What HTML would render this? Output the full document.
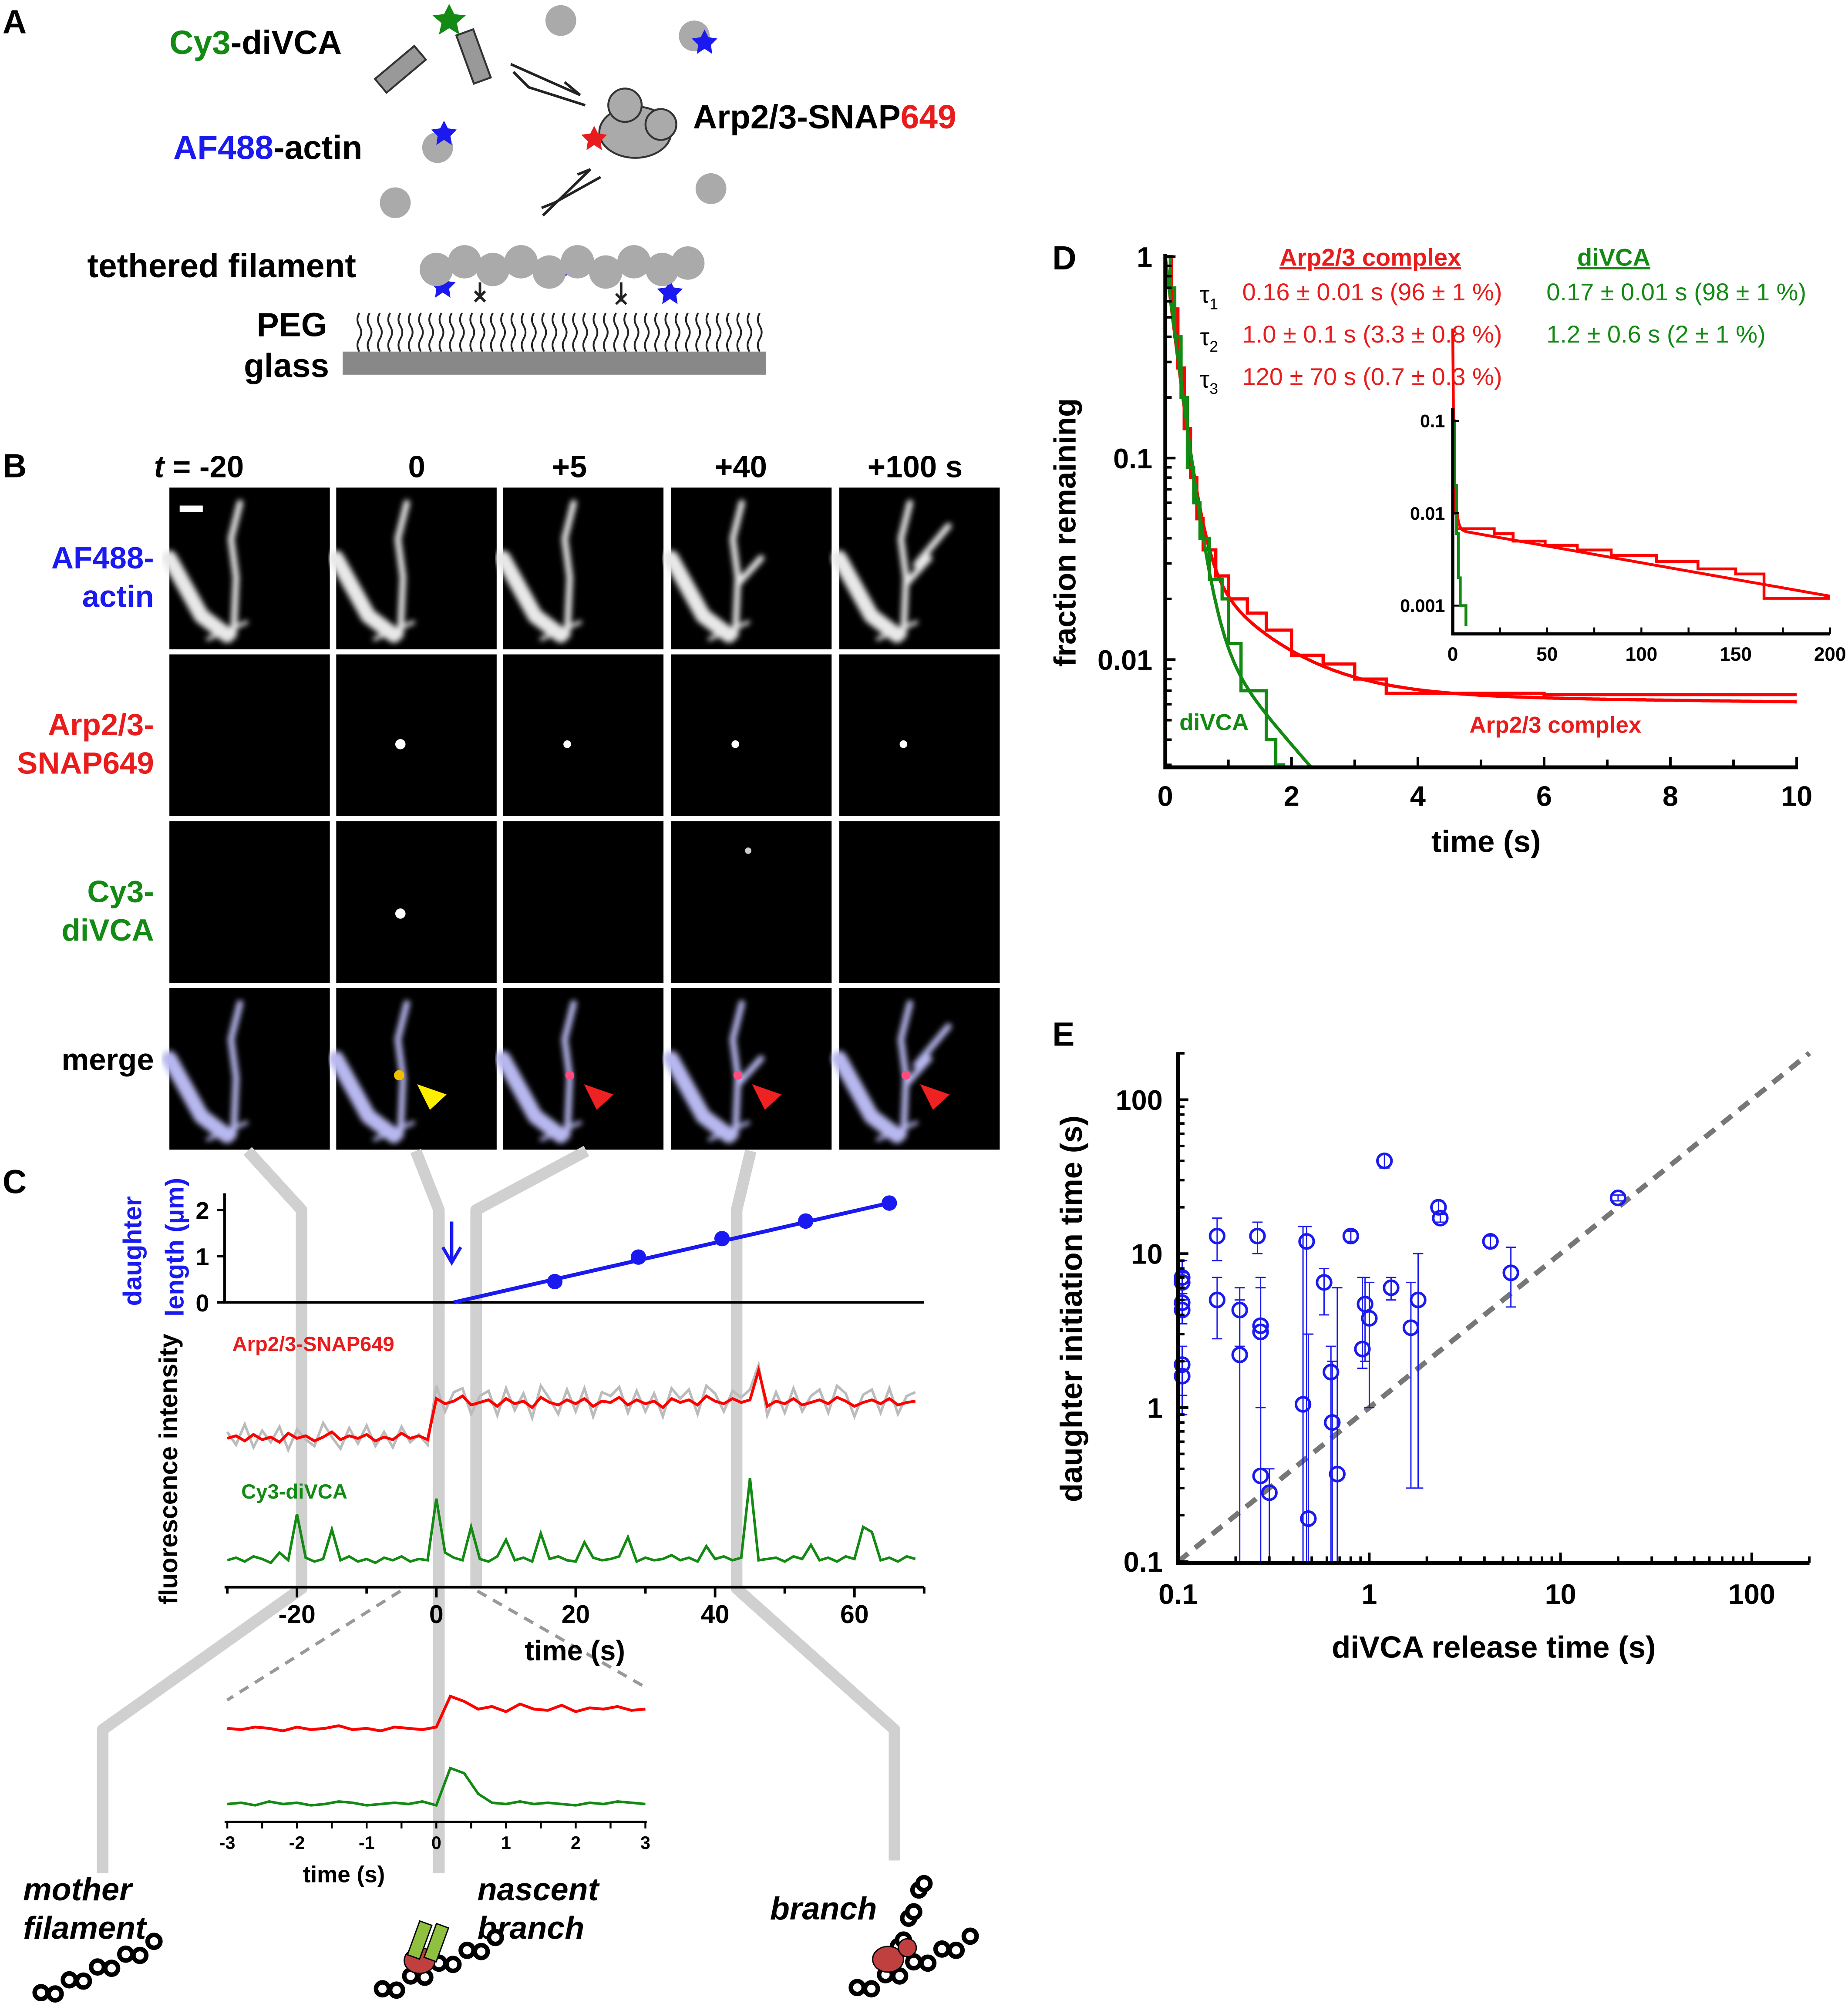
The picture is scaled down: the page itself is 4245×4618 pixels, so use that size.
<!DOCTYPE html>
<html><head><meta charset="utf-8"><style>
html,body{margin:0;padding:0;background:#fff;}
svg{display:block;}
text{font-family:"Liberation Sans",sans-serif;}
.n{font-family:"Liberation Sans Narrow","Liberation Sans",sans-serif;}
.b{font-weight:bold;}
</style></head><body>
<svg id="fig" xmlns="http://www.w3.org/2000/svg" width="4245" height="4618" viewBox="0 0 1440 1566.5">
<defs><filter id="bl"><feGaussianBlur stdDeviation="2.2"/></filter></defs>
<g>
<text x="2" y="26" font-size="26" class="b">A</text>
<text x="132" y="42" font-size="26" class="b"><tspan fill="#138a13">Cy3</tspan>-diVCA</text>
<text x="135" y="124" font-size="26" class="b"><tspan fill="#1a1af0">AF488</tspan>-actin</text>
<text x="540" y="100" font-size="26" class="b">Arp2/3-SNAP<tspan fill="#e81c1c">649</tspan></text>
<text x="68" y="216" font-size="26" class="b">tethered filament</text>
<text x="200" y="262" font-size="26" class="b">PEG</text>
<text x="190" y="294" font-size="26" class="b">glass</text>
<g fill="#999" stroke="#333" stroke-width="1.5">
<rect x="305" y="34" width="14" height="40" transform="rotate(50 312 54)"/>
<rect x="362" y="24" width="14" height="40" transform="rotate(-20 369 44)"/>
</g>
<polygon points="350,3 354,11 363,12 356,18 358,27 350,22 342,27 344,18 337,12 346,11" fill="#138a13"/>
<g fill="#aaa">
<circle cx="437" cy="16" r="12"/><circle cx="541" cy="28" r="12"/><circle cx="341" cy="115" r="12"/><circle cx="308" cy="158" r="12"/><circle cx="554" cy="147" r="12"/>
</g>
<g fill="#1a1af0">
<polygon points="549,23 552,29 559,30 554,35 555,42 549,38 543,42 544,35 539,30 546,29"/>
<polygon points="346,94 349,100 356,101 351,106 352,113 346,109 340,113 341,106 336,101 343,100"/>
<polygon points="345,213 348,219 355,220 350,225 351,232 345,228 339,232 340,225 335,220 342,219"/>
<polygon points="444,198 447,204 454,205 449,210 450,217 444,213 438,217 439,210 434,205 441,204"/>
<polygon points="522,218 525,224 532,225 527,230 528,237 522,233 516,237 517,230 512,225 519,224"/>
</g>
<g fill="#aaa" stroke="#333" stroke-width="1.5">
<ellipse cx="495" cy="103" rx="28" ry="20"/><circle cx="487" cy="82" r="13"/><circle cx="515" cy="97" r="12"/>
</g>
<polygon points="463,98 466,104 473,105 468,110 469,117 463,113 457,117 458,110 453,105 460,104" fill="#e81c1c"/>
<g stroke="#222" stroke-width="2" fill="none">
<path d="M398,50 L452,74 L440,64"/><path d="M400,56 L412,68 L456,82"/>
<path d="M423,168 L460,132 L450,136"/><path d="M422,162 L432,158 L468,138"/>
</g>
<g fill="#aaa">
<circle cx="340" cy="210" r="13"/><circle cx="362" cy="204" r="13"/><circle cx="384" cy="210" r="13"/><circle cx="406" cy="204" r="13"/><circle cx="428" cy="212" r="13"/><circle cx="450" cy="204" r="13"/><circle cx="472" cy="212" r="13"/><circle cx="494" cy="204" r="13"/><circle cx="516" cy="210" r="13"/><circle cx="536" cy="205" r="13"/>
</g>
<path id="pegwave" d="" stroke="#222" stroke-width="1.4" fill="none"/>
<rect x="267" y="274" width="330" height="18" fill="#888"/>
</g>

<g>
<text x="2" y="372" font-size="26" class="b">B</text>
<text x="120" y="372" font-size="24" class="b"><tspan font-style="italic">t</tspan> =  -20</text>
<text x="318" y="372" font-size="24" class="b">0</text>
<text x="430" y="372" font-size="24" class="b">+5</text>
<text x="557" y="372" font-size="24" class="b">+40</text>
<text x="676" y="372" font-size="24" class="b">+100  s</text>
<text x="120" y="443" font-size="24" class="b" fill="#1a1af0" text-anchor="end">AF488-</text>
<text x="120" y="473" font-size="24" class="b" fill="#1a1af0" text-anchor="end">actin</text>
<text x="120" y="573" font-size="24" class="b" fill="#e81c1c" text-anchor="end">Arp2/3-</text>
<text x="120" y="603" font-size="24" class="b" fill="#e81c1c" text-anchor="end">SNAP649</text>
<text x="120" y="703" font-size="24" class="b" fill="#138a13" text-anchor="end">Cy3-</text>
<text x="120" y="733" font-size="24" class="b" fill="#138a13" text-anchor="end">diVCA</text>
<text x="120" y="834" font-size="24" class="b" text-anchor="end">merge</text>
<g id="tiles"></g>
</g>

<g stroke="#d0d0d0" stroke-width="9" fill="none" stroke-linejoin="round">
<path d="M193,897 L235,943 L235,1238 L80,1348 L80,1460"/>
<path d="M324,897 L342,943 L342,1460"/>
<path d="M457,897 L371,943 L371,1238"/>
<path d="M585,897 L574,943 L574,1238 L697,1348 L697,1450"/>
</g>

<g>
<text x="2" y="930" font-size="26" class="b">C</text>
<g id="cplot"></g>
<text font-size="20" class="b" fill="#1a1af0" text-anchor="middle" transform="rotate(-90 110 975)" x="110" y="975">daughter</text>
<text font-size="20" class="b" fill="#1a1af0" text-anchor="middle" transform="rotate(-90 143 972)" x="143" y="972">length (µm)</text>
<text font-size="20" class="b" text-anchor="middle" transform="rotate(-90 138 1145)" x="138" y="1145">fluorescence intensity</text>
<text x="181" y="1053" font-size="16" class="b" fill="#e81c1c">Arp2/3-SNAP649</text>
<text x="188" y="1168" font-size="16" class="b" fill="#138a13">Cy3-diVCA</text>
<text x="448" y="1294" font-size="22" class="b" text-anchor="middle">time (s)</text>
<text x="268" y="1467" font-size="18" class="b" text-anchor="middle">time (s)</text>
<g font-size="25" class="b" font-style="italic">
<text x="18" y="1481">mother</text>
<text x="18" y="1511">filament</text>
<text x="372" y="1481">nascent</text>
<text x="372" y="1511">branch</text>
<text x="600" y="1496">branch</text>
</g>
<g id="cartoons" fill="none" stroke="#000" stroke-width="3.5"></g>
</g>

<g>
<text x="820" y="210" font-size="26" class="b">D</text>
<g id="dplot"></g>
<text font-size="24" class="b" text-anchor="middle" transform="rotate(-90 838 415)" x="838" y="415">fraction remaining</text>
<text x="1158" y="664" font-size="24" class="b" text-anchor="middle">time (s)</text>
<text x="997" y="207" font-size="19" class="b n" fill="#e81c1c" text-decoration="underline">Arp2/3 complex</text>
<text x="1229" y="207" font-size="19" class="b n" fill="#138a13" text-decoration="underline">diVCA</text>
<g font-size="19" class="n">
<text x="935" y="236">τ<tspan font-size="12" dy="5">1</tspan></text>
<text x="935" y="269">τ<tspan font-size="12" dy="5">2</tspan></text>
<text x="935" y="302">τ<tspan font-size="12" dy="5">3</tspan></text>
<text x="968" y="234" fill="#e81c1c">0.16 ± 0.01 s (96 ± 1 %)</text>
<text x="968" y="267" fill="#e81c1c">1.0 ± 0.1 s (3.3 ± 0.8 %)</text>
<text x="968" y="300" fill="#e81c1c">120 ± 70 s (0.7 ± 0.3 %)</text>
<text x="1205" y="234" fill="#138a13">0.17 ± 0.01 s (98 ± 1 %)</text>
<text x="1205" y="267" fill="#138a13">1.2 ± 0.6 s (2 ± 1 %)</text>
</g>
<text x="919" y="569" font-size="18" class="b n" fill="#138a13">diVCA</text>
<text x="1145" y="571" font-size="18" class="b n" fill="#e81c1c">Arp2/3 complex</text>
</g>

<g>
<text x="820" y="815" font-size="26" class="b">E</text>
<g id="eplot"></g>
<text font-size="24" class="b" text-anchor="middle" transform="rotate(-90 843 1020)" x="843" y="1020">daughter initiation time (s)</text>
<text x="1164" y="1292" font-size="24" class="b" text-anchor="middle">diVCA release time (s)</text>
</g>
</svg>
<script>
// ---------- data ----------
const lenTimes = [17, 29, 41, 53, 65];
const lenValues = [0.45, 0.98, 1.38, 1.76, 2.15];
const lenFitStart = [2.5, 0];
const lenFitEnd = [65, 2.15];
const cXTicks = [-20, 0, 20, 40, 60];
const lenYTicks = [0, 1, 2];
const redTrace = [119,121,117,122,118,120,116,123,119,121,117,120,124,118,121,119,122,117,120,118,123,119,121,118,
150,146,148,152,145,147,149,144,150,146,148,143,151,147,145,149,146,150,144,148,147,151,145,149,146,148,143,150,147,149,
145,152,148,146,150,147,149,172,144,148,146,150,145,147,149,146,151,148,144,147,149,146,150,145,147,148];
const grayTrace = [124,114,130,112,125,116,128,110,126,118,113,131,120,111,127,115,129,113,124,112,128,116,122,114,
160,140,155,158,138,152,156,137,158,141,154,135,160,150,138,157,140,158,136,155,152,159,139,156,140,154,136,158,150,157,
138,160,154,140,156,151,157,176,137,155,139,158,140,152,157,139,160,154,136,153,157,139,158,138,152,155];
const greenTrace = [24,26,23,27,25,22,30,24,60,26,23,25,48,24,27,23,25,22,26,24,27,23,25,24,
72,30,26,24,50,25,23,27,40,24,26,23,45,25,27,24,23,38,26,24,25,27,42,23,26,24,25,28,24,26,
23,35,25,27,24,26,88,24,25,26,23,27,25,36,24,26,23,27,25,50,46,24,26,23,27,25];
const insetRed = [45,44,46,45,43,46,44,45,47,44,45,43,46,45,44,46,70,66,60,62,58,64,60,59,63,58,61,60,62,59,60];
const insetGreen = [30,31,29,32,30,31,29,30,32,31,29,30,31,30,32,29,58,54,38,31,30,32,30,31,30,29,31,30,32,31,30];
const insetXTicks = [-3, -2, -1, 0, 1, 2, 3];
const dXTicks = [0, 2, 4, 6, 8, 10];
const dYTicks = [1, 0.1, 0.01];
const dYTickLabels = ["1", "0.1", "0.01"];
const redStepT = [0,0.1,0.2,0.3,0.4,0.5,0.6,0.8,1.0,1.3,1.6,2.0,2.5,3.0,3.5,4.0,5.0,6.0,7.0,8.0,10];
const redStepF = [1,0.55,0.28,0.14,0.08,0.05,0.035,0.026,0.02,0.017,0.014,0.0105,0.0095,0.008,0.0068,0.0068,0.0068,0.0067,0.0067,0.0067,0.0067];
const greenStepT = [0,0.08,0.15,0.25,0.35,0.45,0.55,0.7,0.9,1.0,1.2,1.6,1.75,1.9];
const greenStepF = [1,0.7,0.4,0.2,0.09,0.06,0.04,0.025,0.02,0.012,0.007,0.004,0.003,0.003];
const redFitAmp = [0.96, 0.033, 0.0067];
const redFitTau = [0.16, 1.0, 120];
const greenFitAmp = [0.98, 0.02];
const greenFitTau = [0.17, 1.2];
const insXTicks = [0, 50, 100, 150, 200];
const insYTicks = [0.1, 0.01, 0.001];
const insYTickLabels = ["0.1", "0.01", "0.001"];
const insRedT = [0,1,2,10,22,32,49,66,84,108,130,150,165,200];
const insRedF = [0.1,0.01,0.0068,0.0068,0.006,0.005,0.0045,0.004,0.0035,0.003,0.0025,0.0022,0.0012,0.0012];
const insGreenT = [0,1,2,3,4,6,7];
const insGreenF = [0.1,0.02,0.006,0.002,0.001,0.001,0.0006];
const eReleaseTime = [0.105,0.105,0.105,0.105,0.105,0.105,0.16,0.16,0.21,0.21,0.26,0.27,0.27,0.27,0.3,0.45,0.47,0.48,0.58,0.63,0.64,0.68,0.8,0.92,0.95,1.0,1.2,1.3,1.65,1.8,2.3,2.35,4.3,5.5,20];
const eInitTime = [7,6.5,4.8,4.3,1.9,1.6,13,5,4.3,2.2,13,3.4,3.1,0.36,0.28,1.05,12,0.19,6.5,1.7,0.8,0.37,13,2.4,4.7,3.8,40,6,3.3,5,20,17,12,7.5,23];
const eInitLo = [5,5.5,3.5,3.5,0.9,1.2,9,2.8,2.5,0.1,10,0.1,0.1,0.1,0.1,0.1,0.1,0.1,4,0.1,0.1,0.1,12,1.8,2,1,36,5,0.3,0.3,18,16,11,4.5,22];
const eInitHi = [9,7.5,6,5.5,2.5,2,17,7,6,5,16,7,6,1,0.4,15,15,3,8,2.5,2,6,14,7,7,6.5,44,7,6.5,10,22,18,13,11,24];
const eXTicks = [0.1, 1, 10, 100];
const eXTickLabels = ["0.1", "1", "10", "100"];
const eYTicks = [0.1, 1, 10, 100];
const eYTickLabels = ["0.1", "1", "10", "100"];

// ---------- helpers ----------
const NS = "http://www.w3.org/2000/svg";
function mk(parent, tag, attrs, txt) {
  const e = document.createElementNS(NS, tag);
  for (const k in attrs) e.setAttribute(k, attrs[k]);
  if (txt !== undefined) e.textContent = txt;
  parent.appendChild(e);
  return e;
}
function nm(e, n) {
  
  
  return e;
}

(function(){
  let d = "";
  for (let x = 280; x < 595; x += 8) d += `M${x},274 q-3,-5 0,-10 q3,-5 0,-10 q-3,-5 0,-10 `;
  document.getElementById('pegwave').setAttribute('d', d);
  const g = document.getElementById('fig');
  [[374,233],[484,235]].forEach(p => {
    const l = mk(g, 'path', {d:`M${p[0]},220 L${p[0]},${p[1]} M${p[0]-4},${p[1]-6} L${p[0]+4},${p[1]+2} M${p[0]+4},${p[1]-6} L${p[0]-4},${p[1]+2}`, stroke:'#222', 'stroke-width':2, fill:'none'});
    
    
  });
})();

(function(){
  const g = document.getElementById('tiles');
  const cols = [132, 262, 392, 523, 654];
  const rows = [380, 510, 640, 770];
  const W = 125, H = 126;
  rows.forEach((y, r) => cols.forEach((x, c) => {
    const t = mk(g, 'g', {});
    
    
    mk(t, 'rect', {x, y, width: W, height: H, fill: '#000'});
    const col = r === 3 ? '#b8b8f0' : '#e8e8e8';
    if (r === 0 || r === 3) {
      const gg = mk(t, 'g', {filter: 'url(#bl)', stroke: col, fill: 'none', 'stroke-linecap': 'round'});
      mk(gg, 'path', {d: `M${x},${y+55} L${x+25},${y+100} L${x+45},${y+115}`, 'stroke-width': 12});
      mk(gg, 'path', {d: `M${x+50},${y+115} L${x+52},${y+70} L${x+48},${y+40} L${x+55},${y+12}`, 'stroke-width': 5});
      mk(gg, 'path', {d: `M${x+30},${y+118} L${x+60},${y+105}`, 'stroke-width': 3});
      if (c >= 3) mk(gg, 'path', {d: `M${x+52},${y+75} L${x+70},${y+55}`, 'stroke-width': 5});
      if (c === 4) mk(gg, 'path', {d: `M${x+60},${y+60} L${x+85},${y+30}`, 'stroke-width': 5});
    }
    if (r === 1 && c > 0) mk(t, 'circle', {cx: x+50, cy: y+70, r: c === 1 ? 4 : 3, fill: '#fff'});
    if (r === 2 && c === 1) mk(t, 'circle', {cx: x+50, cy: y+72, r: 4, fill: '#fff'});
    if (r === 2 && c === 3) mk(t, 'circle', {cx: x+60, cy: y+23, r: 2.5, fill: '#ccc'});
    if (r === 3 && c === 1) { mk(t, 'circle', {cx: x+49, cy: y+68, r: 4, fill: '#f0c000'});
      mk(t, 'polygon', {points: `${x+63},${y+75} ${x+86},${y+83} ${x+73},${y+95}`, fill: '#ffee00'}); }
    if (r === 3 && c >= 2) { mk(t, 'circle', {cx: x+52, cy: y+68, r: 3.5, fill: '#ff4c80'});
      mk(t, 'polygon', {points: `${x+63},${y+75} ${x+86},${y+83} ${x+73},${y+95}`, fill: '#ee2222'}); }
    if (r === 0 && c === 0) mk(t, 'rect', {x: x+8, y: y+14, width: 18, height: 5, fill: '#fff'});
  }));
})();

(function(){
  const g = document.getElementById('cplot');
  const x0 = 340, pxs = 5.43;
  const X = t => x0 + t * pxs;
  const Ylen = v => 1015 - v * 36;
  const Yint = v => 1240 - v;
  nm(mk(g, 'path', {d: `M175,930 L175,1015 L720,1015`, stroke: '#000', 'stroke-width': 2, fill: 'none'}), 'length-axes');
  lenYTicks.forEach(v => {
    nm(mk(g, 'line', {x1: 169, x2: 175, y1: Ylen(v), y2: Ylen(v), stroke: '#000', 'stroke-width': 2}), 'length-y-tick');
    nm(mk(g, 'text', {x: 163, y: Ylen(v) + 7, 'font-size': 19, 'font-weight': 'bold', 'text-anchor': 'end'}, v), 'length-y-tick-label');
  });
  nm(mk(g, 'line', {x1: X(lenFitStart[0]), y1: Ylen(lenFitStart[1]), x2: X(lenFitEnd[0]), y2: Ylen(lenFitEnd[1]), stroke: '#1a1af0', 'stroke-width': 3}), 'length-fit-line');
  lenTimes.forEach((t, i) => {
    const c = mk(g, 'circle', {cx: X(t), cy: Ylen(lenValues[i]), r: 6, fill: '#1a1af0'});
    
    
  });
  nm(mk(g, 'path', {d: `M352,952 L352,982 M345,972 L352,984 L359,972`, stroke: '#1a1af0', 'stroke-width': 2.5, fill: 'none'}), 'nucleation-arrow');
  const pth = (arr, f) => arr.map((v, i) => (i ? 'L' : 'M') + X(-30 + 1.25 * i).toFixed(1) + ',' + f(v).toFixed(1)).join(' ');
  nm(mk(g, 'path', {d: pth(grayTrace, Yint), stroke: '#bbb', 'stroke-width': 2, fill: 'none'}), 'arp23-raw-trace');
  nm(mk(g, 'path', {d: pth(redTrace, Yint), stroke: '#ff0000', 'stroke-width': 2.2, fill: 'none'}), 'arp23-trace');
  nm(mk(g, 'path', {d: pth(greenTrace, Yint), stroke: '#138a13', 'stroke-width': 2, fill: 'none'}), 'divca-trace');
  nm(mk(g, 'line', {x1: 175, x2: 720, y1: 1237, y2: 1237, stroke: '#000', 'stroke-width': 2}), 'c-x-axis');
  for (let t = -30; t <= 70; t += 10) {
    const big = cXTicks.includes(t);
    nm(mk(g, 'line', {x1: X(t), x2: X(t), y1: 1237, y2: 1237 + (big ? 8 : 5), stroke: '#000', 'stroke-width': 2}), 'c-x-tick');
  }
  cXTicks.forEach(t => nm(mk(g, 'text', {x: X(t), y: 1265, 'font-size': 20, 'font-weight': 'bold', 'text-anchor': 'middle'}, t), 'c-x-tick-label'));
  nm(mk(g, 'path', {d: `M312,1240 L177,1325 M372,1240 L503,1315`, stroke: '#999', 'stroke-width': 2.5, 'stroke-dasharray': '8,6', fill: 'none'}), 'zoom-guides');
  const XI = t => 340 + t * 54.3;
  const pI = (arr, base) => arr.map((v, i) => (i ? 'L' : 'M') + XI(-3 + 0.2 * i).toFixed(1) + ',' + (base - v).toFixed(1)).join(' ');
  nm(mk(g, 'path', {d: pI(insetRed, 1392), stroke: '#ff0000', 'stroke-width': 2.2, fill: 'none'}), 'inset-arp23-trace');
  nm(mk(g, 'path', {d: pI(insetGreen, 1436), stroke: '#138a13', 'stroke-width': 2, fill: 'none'}), 'inset-divca-trace');
  nm(mk(g, 'line', {x1: 175, x2: 504, y1: 1420, y2: 1420, stroke: '#000', 'stroke-width': 2}), 'inset-x-axis');
  for (let t = -3; t <= 3.001; t += 0.5) nm(mk(g, 'line', {x1: XI(t), x2: XI(t), y1: 1420, y2: 1425, stroke: '#000', 'stroke-width': 1.5}), 'inset-x-tick');
  insetXTicks.forEach(t => nm(mk(g, 'text', {x: XI(t), y: 1441, 'font-size': 14, 'font-weight': 'bold', 'text-anchor': 'middle'}, t), 'inset-x-tick-label'));
})();

(function(){
  const g = document.getElementById('cartoons');
  const chain = (x, y, dx, dy, n, name) => {
    const gg = mk(g, 'g', {});
    
    
    for (let i = 0; i < n; i++) mk(gg, 'circle', {cx: x + dx * i, cy: y + dy * i + (i % 2 ? 3 : -3), r: 5, fill: '#fff'});
  };
  chain(32, 1556, 11, -5, 9, 'mother-filament-cartoon');
  chain(298, 1553, 11, -5, 9, 'nascent-branch-filament');
  chain(668, 1552, 11, -5, 9, 'branch-mother-filament');
  chain(700, 1520, 4, -11, 6, 'daughter-filament');
  const f = document.getElementById('fig');
  nm(mk(f, 'ellipse', {cx: 327, cy: 1528, rx: 12, ry: 10, fill: '#c04040', stroke: '#000'}), 'nascent-arp23');
  nm(mk(f, 'rect', {x: 322, y: 1498, width: 10, height: 28, fill: '#90c040', stroke: '#000', transform: 'rotate(20 327 1512)'}), 'nascent-divca');
  nm(mk(f, 'rect', {x: 335, y: 1500, width: 10, height: 28, fill: '#90c040', stroke: '#000', transform: 'rotate(20 340 1514)'}), 'nascent-divca-2');
  nm(mk(f, 'ellipse', {cx: 692, cy: 1527, rx: 12, ry: 10, fill: '#c04040', stroke: '#000'}), 'branch-arp23');
  nm(mk(f, 'circle', {cx: 707, cy: 1518, r: 7, fill: '#c04040', stroke: '#000'}), 'branch-arp23-lobe');
})();

(function(){
  const g = document.getElementById('dplot');
  const X = t => 908 + t * 49.2;
  const Y = f => 200 - Math.log10(f) * 157;
  const step = (T, F, Xf, Yf) => {
    let d = `M${Xf(T[0])},${Yf(F[0])}`;
    for (let i = 1; i < T.length; i++) d += ` L${Xf(T[i])},${Yf(F[i-1])} L${Xf(T[i])},${Yf(F[i])}`;
    return d;
  };
  const fitPath = (amp, tau, t1, Xf, Yf, yMin) => {
    let d = '';
    for (let i = 0; i <= 400; i++) {
      const t = t1 * i / 400;
      let v = 0; amp.forEach((a, k) => v += a * Math.exp(-t / tau[k]));
      if (v < yMin) break;
      d += (i ? 'L' : 'M') + Xf(t).toFixed(1) + ',' + Yf(v).toFixed(1);
    }
    return d;
  };
  nm(mk(g, 'path', {d: step(redStepT, redStepF, X, Y), stroke: '#ff0000', 'stroke-width': 2.5, fill: 'none'}), 'arp23-survival-steps');
  nm(mk(g, 'path', {d: fitPath(redFitAmp, redFitTau, 10, X, Y, 0.003), stroke: '#ff0000', 'stroke-width': 2.5, fill: 'none'}), 'arp23-fit');
  nm(mk(g, 'path', {d: step(greenStepT, greenStepF, X, Y), stroke: '#138a13', 'stroke-width': 2.5, fill: 'none'}), 'divca-survival-steps');
  nm(mk(g, 'path', {d: fitPath(greenFitAmp, greenFitTau, 10, X, Y, 0.0029), stroke: '#138a13', 'stroke-width': 2.5, fill: 'none'}), 'divca-fit');
  nm(mk(g, 'path', {d: `M908,198 L908,598 L1401,598`, stroke: '#000', 'stroke-width': 3, fill: 'none'}), 'd-axes');
  for (let t = 0; t <= 10; t += 1) nm(mk(g, 'line', {x1: X(t), x2: X(t), y1: 598, y2: t % 2 ? 592 : 590, stroke: '#000', 'stroke-width': 2}), 'd-x-tick');
  dXTicks.forEach(t => nm(mk(g, 'text', {x: X(t), y: 628, 'font-size': 22, 'font-weight': 'bold', 'text-anchor': 'middle'}, t), 'd-x-tick-label'));
  for (let e = -3; e <= 0; e++) for (let m = 1; m <= 9; m++) {
    const v = m * Math.pow(10, e); if (v > 1 || Y(v) > 598) continue;
    nm(mk(g, 'line', {x1: 908, x2: m === 1 ? 916 : 913, y1: Y(v), y2: Y(v), stroke: '#000', 'stroke-width': 2}), 'd-y-tick');
  }
  dYTicks.forEach((v, i) => nm(mk(g, 'text', {x: 898, y: Y(v) + 8, 'font-size': 22, 'font-weight': 'bold', 'text-anchor': 'end'}, dYTickLabels[i]), 'd-y-tick-label'));
  const XI = t => 1132 + t * 1.47;
  const YI = f => 328 - (Math.log10(f) + 1) * 72;
  nm(mk(g, 'path', {d: step(insRedT, insRedF, XI, YI), stroke: '#ff0000', 'stroke-width': 2.2, fill: 'none'}), 'inset-arp23-steps');
  nm(mk(g, 'path', {d: fitPath(redFitAmp, redFitTau, 200, XI, YI, 0.0005), stroke: '#ff0000', 'stroke-width': 2.2, fill: 'none'}), 'inset-arp23-fit');
  nm(mk(g, 'path', {d: step(insGreenT, insGreenF, XI, YI), stroke: '#138a13', 'stroke-width': 2.2, fill: 'none'}), 'inset-divca-steps');
  nm(mk(g, 'path', {d: `M1132,318 L1132,494 L1426,494`, stroke: '#000', 'stroke-width': 2.5, fill: 'none'}), 'inset-d-axes');
  for (let t = 0; t <= 200; t += 25) nm(mk(g, 'line', {x1: XI(t), x2: XI(t), y1: 494, y2: 489, stroke: '#000', 'stroke-width': 1.5}), 'inset-d-x-tick');
  insXTicks.forEach(t => nm(mk(g, 'text', {x: XI(t), y: 515, 'font-size': 15, 'font-weight': 'bold', 'text-anchor': 'middle'}, t), 'inset-d-x-tick-label'));
  insYTicks.forEach((v, i) => {
    nm(mk(g, 'line', {x1: 1132, x2: 1137, y1: YI(v), y2: YI(v), stroke: '#000', 'stroke-width': 1.5}), 'inset-d-y-tick');
    nm(mk(g, 'text', {x: 1126, y: YI(v) + 5, 'font-size': 14, 'font-weight': 'bold', 'text-anchor': 'end'}, insYTickLabels[i]), 'inset-d-y-tick-label');
  });
})();

(function(){
  const g = document.getElementById('eplot');
  const X = v => 918 + (Math.log10(v) + 1) * 149;
  const Y = v => 1217 - (Math.log10(v) + 1) * 120;
  const xEnd = Math.pow(10, (1410 - 918) / 149 - 1);
  nm(mk(g, 'line', {x1: X(0.1), y1: Y(0.1), x2: X(xEnd), y2: Y(xEnd), stroke: '#777', 'stroke-width': 4, 'stroke-dasharray': '10,7'}), 'identity-line');
  eReleaseTime.forEach((x, i) => {
    const cx = X(x);
    const eb = mk(g, 'path', {d: `M${cx},${Y(eInitLo[i])} L${cx},${Y(eInitHi[i])} M${cx-4},${Y(eInitLo[i])} L${cx+4},${Y(eInitLo[i])} M${cx-4},${Y(eInitHi[i])} L${cx+4},${Y(eInitHi[i])}`, stroke: '#1a1af0', 'stroke-width': 1, fill: 'none'});
    
    
    const c = mk(g, 'circle', {cx, cy: Y(eInitTime[i]), r: 5.5, fill: 'none', stroke: '#1a1af0', 'stroke-width': 2});
    
    
  });
  nm(mk(g, 'path', {d: `M918,820 L918,1218 L1410,1218`, stroke: '#000', 'stroke-width': 3, fill: 'none'}), 'e-axes');
  for (let e = -1; e <= 2; e++) for (let m = 1; m <= 9; m++) {
    const v = m * Math.pow(10, e);
    if (X(v) <= 1410) nm(mk(g, 'line', {x1: X(v), x2: X(v), y1: 1218, y2: m === 1 ? 1210 : 1213, stroke: '#000', 'stroke-width': 2}), 'e-x-tick');
    if (Y(v) >= 820) nm(mk(g, 'line', {x1: 918, x2: m === 1 ? 926 : 923, y1: Y(v), y2: Y(v), stroke: '#000', 'stroke-width': 2}), 'e-y-tick');
  }
  eXTicks.forEach((v, i) => nm(mk(g, 'text', {x: X(v), y: 1250, 'font-size': 22, 'font-weight': 'bold', 'text-anchor': 'middle'}, eXTickLabels[i]), 'e-x-tick-label'));
  eYTicks.forEach((v, i) => nm(mk(g, 'text', {x: 906, y: Y(v) + 8, 'font-size': 22, 'font-weight': 'bold', 'text-anchor': 'end'}, eYTickLabels[i]), 'e-y-tick-label'));
})();
</script>
</body></html>
